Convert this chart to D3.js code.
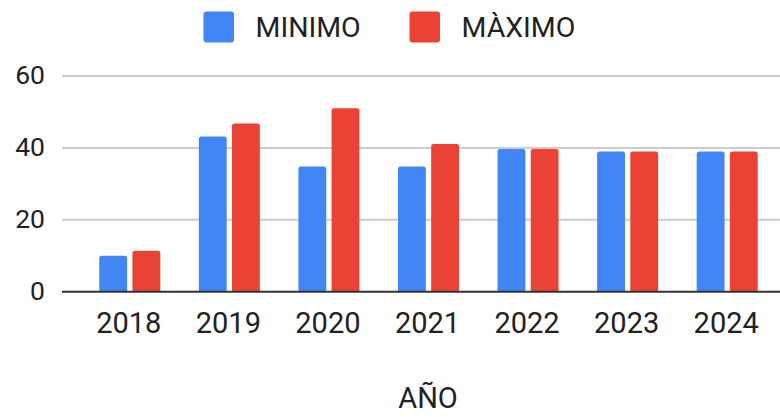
<!DOCTYPE html>
<html>
<head>
  <meta charset="utf-8">
  <script src="https://d3js.org/d3.v7.min.js"></script>
  <style>
    body { margin: 0; background: #fff; }
    svg { display: block; font-family: Roboto, Arial, sans-serif; }
  </style>
</head>
<body>
<script>
  // data
  var years = ["2018", "2019", "2020", "2021", "2022", "2023", "2024"];
  var minimo = [10, 43.2, 34.8, 34.8, 39.7, 39, 39];
  var maximo = [11.4, 46.8, 51, 41.1, 39.7, 39, 39];
  var seriesNames = ["MINIMO", "MÀXIMO"];
  var seriesColors = ["#4285f4", "#ea4335"];
  var yTicks = [0, 20, 40, 60];

  var width = 780, height = 417;

  var svg = d3.select("body").append("svg")
      .attr("width", width)
      .attr("height", height);

  // scales
  var y = d3.scaleLinear().domain([0, 60]).range([291.7, 76]);
  var x0 = d3.scaleBand().domain(years).range([80, 777])
      .paddingInner(0.387).paddingOuter(0.1935);
  var x1 = d3.scaleBand().domain(seriesNames).range([0, x0.bandwidth()])
      .paddingInner(0.16);

  // gridlines
  svg.append("g").selectAll("line")
      .data(yTicks.filter(function(d) { return d > 0; }))
      .enter().append("line")
      .attr("x1", 62).attr("x2", 780)
      .attr("y1", function(d) { return y(d); })
      .attr("y2", function(d) { return y(d); })
      .attr("stroke", "#cccccc")
      .attr("stroke-width", 2);

  // y labels
  svg.append("g").selectAll("text")
      .data(yTicks)
      .enter().append("text")
      .attr("x", 45)
      .attr("y", function(d) { return y(d) - 1.5; })
      .attr("text-anchor", "end")
      .attr("dominant-baseline", "central")
      .attr("fill", "#222")
      .style("font-size", "26.5px")
      .text(function(d) { return d; });

  // bars with rounded tops
  function barPath(bx, by, bw, bh) {
    var r = Math.min(2.5, bh / 2);
    return "M" + bx + "," + (by + bh) +
      "V" + (by + r) +
      "Q" + bx + "," + by + " " + (bx + r) + "," + by +
      "H" + (bx + bw - r) +
      "Q" + (bx + bw) + "," + by + " " + (bx + bw) + "," + (by + r) +
      "V" + (by + bh) + "Z";
  }

  var rows = years.map(function(yr, i) {
    return { year: yr, values: [minimo[i], maximo[i]] };
  });

  var groups = svg.append("g").selectAll("g")
      .data(rows)
      .enter().append("g")
      .attr("transform", function(d) { return "translate(" + x0(d.year) + ",0)"; });

  groups.selectAll("path")
      .data(function(d) {
        return d.values.map(function(v, j) { return { key: seriesNames[j], value: v, idx: j }; });
      })
      .enter().append("path")
      .attr("d", function(d) {
        return barPath(x1(d.key), y(d.value), x1.bandwidth(), y(0) - y(d.value));
      })
      .attr("fill", function(d) { return seriesColors[d.idx]; });

  // baseline
  svg.append("line")
      .attr("x1", 62).attr("x2", 780)
      .attr("y1", y(0)).attr("y2", y(0))
      .attr("stroke", "#333")
      .attr("stroke-width", 2);

  // x labels
  svg.append("g").selectAll("text")
      .data(years)
      .enter().append("text")
      .attr("x", function(d) { return x0(d) + x0.bandwidth() / 2 - 1; })
      .attr("y", 333)
      .attr("text-anchor", "middle")
      .attr("fill", "#222")
      .style("font-size", "29px")
      .text(function(d) { return d; });

  // x title
  svg.append("text")
      .attr("x", 428)
      .attr("y", 408)
      .attr("text-anchor", "middle")
      .attr("fill", "#222")
      .style("font-size", "29px")
      .text("AÑO");

  // legend
  var legendX = [203.5, 409.5];
  var legend = svg.append("g").selectAll("g")
      .data(seriesNames)
      .enter().append("g")
      .attr("transform", function(d, i) { return "translate(" + legendX[i] + ",0)"; });

  legend.append("rect")
      .attr("x", 0).attr("y", 11.5)
      .attr("width", 30.5).attr("height", 31)
      .attr("rx", 3)
      .attr("fill", function(d, i) { return seriesColors[i]; });

  legend.append("text")
      .attr("x", 52)
      .attr("y", 37)
      .attr("fill", "#222")
      .style("font-size", "28.5px")
      .text(function(d) { return d; });
</script>
</body>
</html>
